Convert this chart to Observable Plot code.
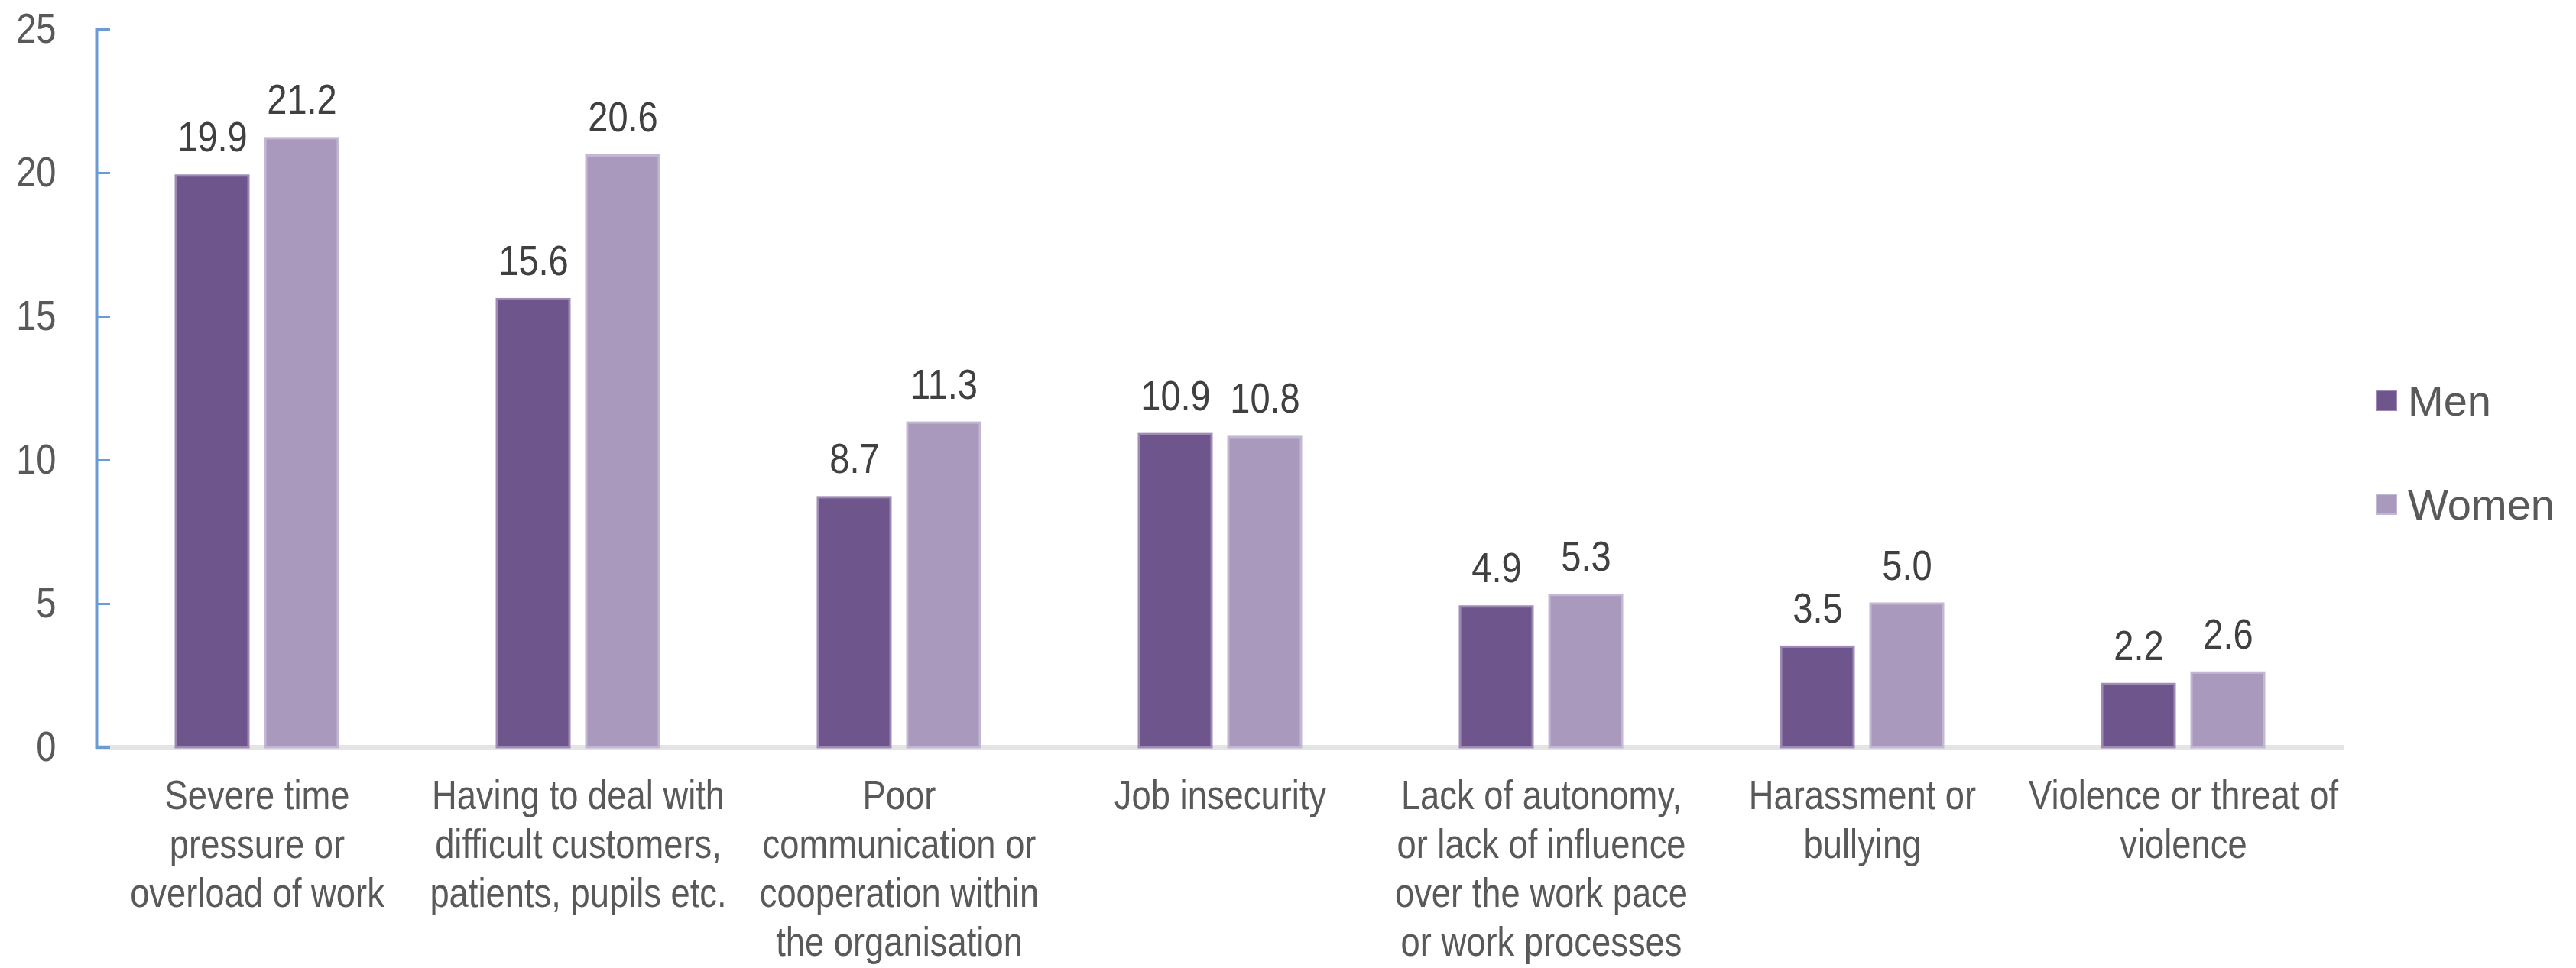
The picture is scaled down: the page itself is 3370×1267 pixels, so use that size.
<!DOCTYPE html>
<html>
<head>
<meta charset="utf-8">
<script src="https://cdn.jsdelivr.net/npm/d3@7"></script>
<script src="https://cdn.jsdelivr.net/npm/@observablehq/plot@0.6"></script>
<style>
  html, body { margin: 0; padding: 0; background: #ffffff; }
  #wrap { position: relative; width: 3370px; height: 1267px; font-family: "Liberation Sans", Arial, sans-serif; }
  #legend { position: absolute; left: 3108px; top: 490px; color: #595959; font-size: 56px; }
  .item { display: flex; align-items: center; height: 68px; }
  .item + .item { margin-top: 68px; }
  .sw { width: 28px; height: 28px; margin-right: 14px; box-sizing: border-box; border: 2px solid; }
</style>
</head>
<body>
<div id="wrap"></div>
<script>
const categories = [
  "Severe time pressure or overload of work",
  "Having to deal with difficult customers, patients, pupils etc.",
  "Poor communication or cooperation within the organisation",
  "Job insecurity",
  "Lack of autonomy, or lack of influence over the work pace or work processes",
  "Harassment or bullying",
  "Violence or threat of violence"
];
const tickLabels = [
  "Severe time\npressure or\noverload of work",
  "Having to deal with\ndifficult customers,\npatients, pupils etc.",
  "Poor\ncommunication or\ncooperation within\nthe organisation",
  "Job insecurity",
  "Lack of autonomy,\nor lack of influence\nover the work pace\nor work processes",
  "Harassment or\nbullying",
  "Violence or threat of\nviolence"
];
const series = ["Men", "Women"];
const men = [19.9, 15.6, 8.7, 10.9, 4.9, 3.5, 2.2];
const women = [21.2, 20.6, 11.3, 10.8, 5.3, 5.0, 2.6];
const colors = ["#6e568c", "#a899bd"];
const borderColors = ["#9d8bb5", "#c3b8d3"];
const yTicks = [0, 5, 10, 15, 20, 25];

const data = categories.flatMap((c, i) => [
  {category: c, sex: "Men", value: men[i]},
  {category: c, sex: "Women", value: women[i]}
]);

const chart = Plot.plot({
  width: 3370,
  height: 1267,
  marginTop: 38,
  marginBottom: 289,
  marginLeft: 125,
  marginRight: 303,
  style: {fontFamily: "'Liberation Sans', Arial, sans-serif", background: "#ffffff"},
  fx: {domain: categories, padding: 0, label: null},
  x: {domain: series, paddingInner: 0.186, paddingOuter: 0.874, axis: null},
  y: {domain: [0, 25], label: null},
  color: {domain: series, range: colors},
  marks: [
    Plot.ruleY([0], {stroke: "#e4e4e4", strokeWidth: 7}),
    Plot.frame({anchor: "left", stroke: "#6c9bd2", strokeWidth: 4, facetAnchor: "left"}),
    Plot.barY(data, {
      fx: "category", x: "sex", y: "value", fill: "sex",
      stroke: d => borderColors[series.indexOf(d.sex)], strokeWidth: 3
    }),
    Plot.text(data, {
      fx: "category", x: "sex", y: "value",
      text: d => d.value.toFixed(1),
      lineAnchor: "bottom", dy: -32, fontSize: 56, fill: "#404040"
    }),
    Plot.axisY({
      ticks: yTicks, tickFormat: d => String(d), tickSize: -18, tickPadding: 71,
      stroke: "#6c9bd2", strokeWidth: 3, fill: "#595959", fontSize: 56, label: null
    }),
    Plot.axisFx({
      anchor: "bottom",
      tickSize: 0, tickPadding: 35, fontSize: 54, lineHeight: 1.185, fill: "#595959", label: null,
      tickFormat: d => tickLabels[categories.indexOf(d)]
    })
  ]
});

// horizontally condense all chart text around its anchor, as in the source chart
chart.querySelectorAll("text").forEach(t => {
  const tr = t.getAttribute("transform");
  t.setAttribute("transform", (tr ? tr + " " : "") + "scale(0.84,1)");
});

const wrap = document.getElementById("wrap");
wrap.appendChild(chart);

const legend = document.createElement("div");
legend.id = "legend";
series.forEach((s, i) => {
  const item = document.createElement("div");
  item.className = "item";
  const sw = document.createElement("span");
  sw.className = "sw";
  sw.style.background = colors[i];
  sw.style.borderColor = borderColors[i];
  const lab = document.createElement("span");
  lab.textContent = s;
  item.appendChild(sw);
  item.appendChild(lab);
  legend.appendChild(item);
});
wrap.appendChild(legend);
</script>
</body>
</html>
